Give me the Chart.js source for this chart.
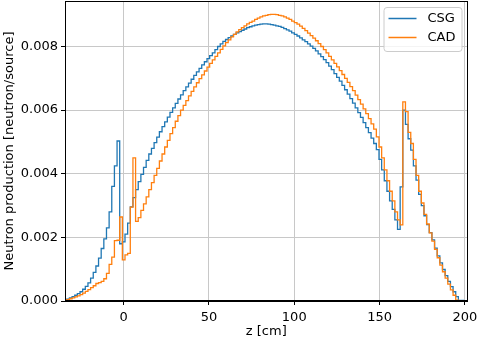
<!DOCTYPE html>
<html>
<head>
  <title>Neutron production</title>
  <script src="https://cdn.jsdelivr.net/npm/chart.js"></script>
  <style>
    body { margin: 0; background: #fff; }
    #wrap { width: 477px; height: 339px; }
  </style>
</head>
<body>
  <div id="wrap"><canvas id="chart" width="477" height="339"></canvas></div>

  <script>
    // histogram bins along z [cm]
    const binStart = -33.25;
    const binWidth = 1.55;

    // neutron production per bin, in units of 1e-3 neutron/source
    const csg = [
      0.02, 0.06, 0.10, 0.14, 0.18, 0.23, 0.29, 0.37, 0.46, 0.57,
      0.72, 0.90, 1.10, 1.35, 1.65, 1.95, 2.30, 2.80, 3.60, 4.25,
      5.03, 1.80, 1.86, 2.10, 2.45, 2.96, 3.25, 3.50, 3.75, 3.98,
      4.20, 4.42, 4.62, 4.80, 4.98, 5.15, 5.32, 5.48, 5.63, 5.78,
      5.93, 6.07, 6.21, 6.35, 6.48, 6.61, 6.73, 6.85, 6.97, 7.09,
      7.20, 7.31, 7.42, 7.52, 7.62, 7.71, 7.80, 7.90, 8.00, 8.08,
      8.16, 8.22, 8.28, 8.33, 8.38, 8.43, 8.47, 8.51, 8.55, 8.59,
      8.62, 8.65, 8.67, 8.69, 8.70, 8.71, 8.71, 8.70, 8.69, 8.67,
      8.65, 8.63, 8.60, 8.56, 8.52, 8.48, 8.43, 8.38, 8.33, 8.27,
      8.21, 8.15, 8.08, 8.01, 7.94, 7.86, 7.77, 7.68, 7.59, 7.49,
      7.38, 7.27, 7.15, 7.03, 6.91, 6.78, 6.64, 6.50, 6.36, 6.22,
      6.07, 5.92, 5.77, 5.61, 5.45, 5.29, 5.12, 4.95, 4.76, 4.45,
      4.12, 3.78, 3.45, 3.15, 2.88, 2.55, 2.25, 3.59, 6.00, 5.55,
      5.10, 4.74, 4.25, 3.80, 3.35, 3.00, 2.68, 2.40, 2.15, 1.92,
      1.66, 1.42, 1.20, 0.99, 0.80, 0.62, 0.45, 0.29, 0.14, 0.02
    ];
    const cad = [
      0.02, 0.04, 0.07, 0.10, 0.13, 0.16, 0.20, 0.25, 0.30, 0.36,
      0.42, 0.48, 0.55, 0.58, 0.62, 0.70, 0.87, 1.15, 1.38, 1.90,
      1.91, 2.64, 1.29, 1.45, 1.50, 2.95, 4.50, 2.50, 2.62, 2.85,
      3.05, 3.27, 3.50, 3.72, 3.95, 4.17, 4.40, 4.62, 4.84, 5.05,
      5.26, 5.45, 5.65, 5.83, 6.00, 6.15, 6.30, 6.45, 6.59, 6.73,
      6.86, 6.99, 7.11, 7.23, 7.35, 7.47, 7.58, 7.69, 7.80, 7.91,
      8.02, 8.12, 8.21, 8.30, 8.38, 8.46, 8.53, 8.59, 8.65, 8.71,
      8.76, 8.80, 8.85, 8.89, 8.93, 8.96, 8.98, 9.00, 9.01, 9.01,
      9.00, 8.98, 8.96, 8.93, 8.89, 8.85, 8.80, 8.75, 8.70, 8.64,
      8.57, 8.50, 8.42, 8.34, 8.26, 8.18, 8.09, 8.00, 7.90, 7.80,
      7.69, 7.58, 7.47, 7.36, 7.24, 7.12, 7.00, 6.87, 6.74, 6.61,
      6.47, 6.33, 6.19, 6.04, 5.89, 5.73, 5.57, 5.40, 5.16, 4.84,
      4.50, 4.12, 3.78, 3.45, 3.15, 2.80, 2.55, 2.39, 6.26, 5.95,
      5.30, 4.95, 4.45, 3.95, 3.45, 3.08, 2.72, 2.42, 2.14, 1.88,
      1.62, 1.36, 1.13, 0.92, 0.72, 0.53, 0.35, 0.18, 0.03, 0.00
    ];

    const seriesNames = ['CSG', 'CAD'];
    const seriesColors = ['#1f77b4', '#ff7f0e'];

    // stairs: one point per left bin edge, closed down to the baseline at both ends
    function stairs(values) {
      const pts = [{ x: binStart, y: 0 }];
      values.forEach((v, i) => pts.push({ x: binStart + i * binWidth, y: v }));
      const end = binStart + values.length * binWidth;
      pts.push({ x: end, y: values[values.length - 1] });
      pts.push({ x: end, y: 0 });
      return pts;
    }

    const font = { family: 'DejaVu Sans', size: 13 };

    // black box round the plot area, like matplotlib spines
    const frame = {
      id: 'frame',
      afterDatasetsDraw(chart) {
        const { ctx, chartArea: a } = chart;
        ctx.save();
        ctx.strokeStyle = '#000';
        ctx.lineWidth = 1;
        ctx.strokeRect(Math.round(a.left) + 0.5, Math.round(a.top) + 0.5,
          Math.round(a.right - a.left) - 1, Math.round(a.bottom - a.top) - 1);
        ctx.restore();
      }
    };

    // legend boxed inside the upper right corner
    const insideLegend = {
      id: 'insideLegend',
      afterDraw(chart) {
        const { ctx, chartArea: a } = chart;
        const w = 78, h = 44;
        const x0 = a.right - 6 - w, y0 = a.top + 6;
        ctx.save();
        ctx.beginPath();
        ctx.roundRect(x0 + 0.5, y0 + 0.5, w, h, 3);
        ctx.fillStyle = 'rgba(255,255,255,0.8)';
        ctx.fill();
        ctx.strokeStyle = '#cccccc';
        ctx.lineWidth = 1;
        ctx.stroke();
        ctx.font = '13px "DejaVu Sans"';
        ctx.textBaseline = 'middle';
        ctx.fillStyle = '#000';
        chart.data.datasets.forEach((ds, i) => {
          const y = y0 + 11.5 + i * 19;
          ctx.strokeStyle = ds.borderColor;
          ctx.lineWidth = 1.5;
          ctx.beginPath();
          ctx.moveTo(x0 + 5, y);
          ctx.lineTo(x0 + 33, y);
          ctx.stroke();
          ctx.fillText(ds.label, x0 + 44, y);
        });
        ctx.restore();
      }
    };

    new Chart(document.getElementById('chart'), {
      type: 'line',
      data: {
        datasets: [
          { label: seriesNames[0], data: stairs(csg), borderColor: seriesColors[0], order: 2 },
          { label: seriesNames[1], data: stairs(cad), borderColor: seriesColors[1], order: 1 }
        ]
      },
      options: {
        responsive: false,
        animation: false,
        events: [],
        layout: { padding: { top: 1, right: 9.5, left: 0, bottom: 0 } },
        elements: {
          line: { borderWidth: 1.3, stepped: 'after', tension: 0, fill: false },
          point: { radius: 0 }
        },
        plugins: { legend: { display: false }, tooltip: { enabled: false } },
        scales: {
          x: {
            type: 'linear',
            min: -34.3,
            max: 201.5,
            ticks: { stepSize: 50, includeBounds: false, color: '#000', font, padding: 5, maxRotation: 0 },
            grid: { color: '#c8c8c8', lineWidth: 1, tickColor: '#000', tickLength: 4 },
            border: { color: '#000', width: 1 },
            title: { display: true, text: 'z [cm]', color: '#000', font, padding: { top: 0, bottom: 0 } },
            afterFit(s) { s.height = 38; s.paddingLeft = 0; s.paddingRight = 0; }
          },
          y: {
            min: 0,
            max: 9.43,
            ticks: {
              stepSize: 2, includeBounds: false, color: '#000', font, padding: 3,
              callback: v => (v / 1000).toFixed(3)
            },
            grid: { color: '#c8c8c8', lineWidth: 1, tickColor: '#000', tickLength: 4 },
            border: { color: '#000', width: 1 },
            title: { display: true, text: 'Neutron production [neutron/source]', color: '#000', font, padding: { top: 2, bottom: 0 } },
            afterFit(s) { s.width = 65; s.paddingTop = 0; s.paddingBottom = 0; }
          }
        }
      },
      plugins: [frame, insideLegend]
    });
  </script>
</body>
</html>
